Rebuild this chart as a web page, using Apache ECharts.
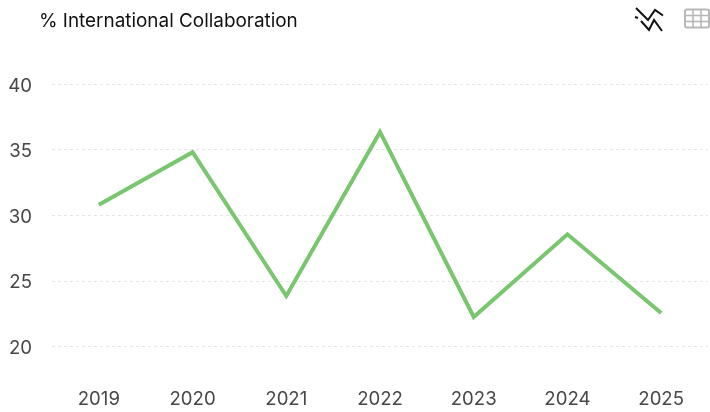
<!DOCTYPE html>
<html>
<head>
<meta charset="utf-8">
<style>html,body{margin:0;padding:0;background:#fff}#chart{width:710px;height:412px}</style>
<script src="https://cdn.jsdelivr.net/npm/echarts@6/dist/echarts.min.js"></script>
</head>
<body>
<div id="chart"></div>
<script>
const titleText = '% International Collaboration';
const years = ['2019', '2020', '2021', '2022', '2023', '2024', '2025'];
const collaboration = [30.8, 34.8, 23.85, 36.35, 22.25, 28.55, 22.55];
const FONT = 'Inter, "Noto Sans", sans-serif';

const chart = echarts.init(document.getElementById('chart'), null, { renderer: 'canvas' });

// Grid cells for the table-view toggle
const tableIcon = [{ type: 'rect', shape: { x: 685, y: 9.5, width: 24, height: 18, r: 2 },
  style: { stroke: '#b8b8b8', lineWidth: 2, fill: null } }];
for (let i = 1; i < 3; i++) {
  tableIcon.push({ type: 'line', shape: { x1: 685 + i * 8, y1: 9.5, x2: 685 + i * 8, y2: 27.5 },
    style: { stroke: '#b8b8b8', lineWidth: 1.6 } });
  tableIcon.push({ type: 'line', shape: { x1: 685, y1: 9.5 + i * 6, x2: 709, y2: 9.5 + i * 6 },
    style: { stroke: '#b8b8b8', lineWidth: 1.6 } });
}

chart.setOption({
  animation: false,
  backgroundColor: '#ffffff',
  title: {
    text: titleText, left: 34, top: 7,
    textStyle: { fontFamily: FONT, fontSize: 18.9, fontWeight: 400, color: '#111111' }
  },
  grid: { left: 52, right: 2, top: 84, bottom: 65.5 },
  xAxis: {
    type: 'category',
    data: years,
    boundaryGap: true,
    axisLine: { show: false },
    axisTick: { show: false },
    axisLabel: { margin: 43.5, fontFamily: FONT, fontSize: 18.6, color: '#474747' }
  },
  yAxis: {
    type: 'value',
    min: 20, max: 40, interval: 5,
    axisLine: { show: false },
    axisTick: { show: false },
    // Top-aligned with a short line box, which sits the digits just below each gridline
    axisLabel: { margin: 20, verticalAlign: 'top', lineHeight: 4, fontFamily: FONT, fontSize: 18.6, color: '#474747' },
    splitLine: { lineStyle: { color: '#e6e6e6', type: [3, 3], width: 1 } }
  },
  series: [{
    type: 'line',
    data: collaboration,
    symbol: 'none',
    lineStyle: { color: '#78c66d', width: 4, join: 'miter' }
  }],
  graphic: [
    // Chart-view toggle
    { type: 'polyline', shape: { points: [[636, 8], [648, 20], [655, 10], [663, 15.5]] },
      style: { stroke: '#111', lineWidth: 2, fill: null } },
    { type: 'polyline', shape: { points: [[641, 21], [649, 30], [654, 20], [662, 31]] },
      style: { stroke: '#111', lineWidth: 2, fill: null } },
    { type: 'line', shape: { x1: 635, y1: 17, x2: 638, y2: 18 },
      style: { stroke: '#111', lineWidth: 2 } },
    ...tableIcon
  ]
});
</script>
</body>
</html>
